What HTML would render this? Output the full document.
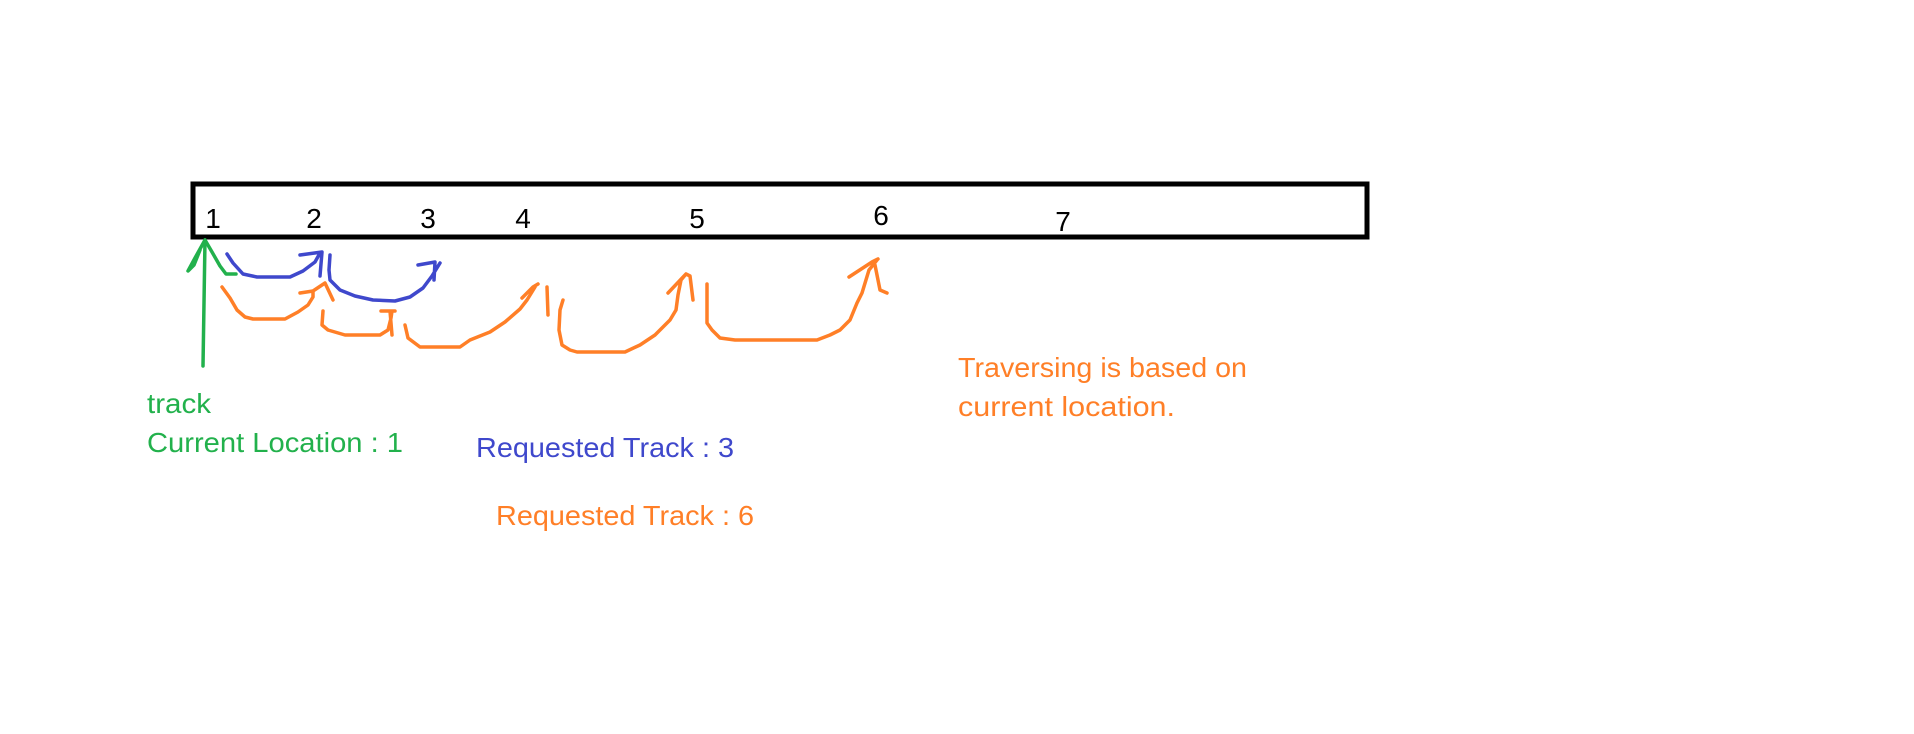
<!DOCTYPE html>
<html><head><meta charset="utf-8"><style>
html,body{margin:0;padding:0;background:#fff;}
svg{display:block;}
text{font-family:"Liberation Sans",sans-serif;font-size:28px;}
</style></head><body>
<svg width="1914" height="734" viewBox="0 0 1914 734">
<rect x="193" y="184" width="1174" height="53" fill="none" stroke="#000" stroke-width="5"/>
<g fill="#000" text-anchor="middle">
<text x="213" y="228">1</text>
<text x="314" y="228">2</text>
<text x="428" y="228">3</text>
<text x="523" y="228">4</text>
<text x="697" y="228">5</text>
<text x="881" y="225">6</text>
<text x="1063" y="231">7</text>
</g>
<g fill="none" stroke-width="3.5" stroke-linecap="round" stroke-linejoin="round">
<g stroke="#22b14c">
<path d="M203,366 L205,240"/>
<path d="M205,240 L195,258 L188,271 L194,265 L200,250"/>
<path d="M205,240 L212,252 L220,266 L226,274 L236,274"/>
</g>
<g stroke="#3f48cc">
<path d="M227,254 L233,263 L243,274 L257,277 L290,277 L303,271 L315,262 L320,253 M300,255 L322,252 L320,276"/>
<path d="M330,255 L329,270 L330,280 L340,290 L355,296 L373,300 L395,301 L410,297 L423,288 L432,276 L440,263 M418,265 L435,262 L434,280"/>
</g>
<g stroke="#ff7f27">
<path d="M222,287 L230,298 L237,310 L245,317 L253,319 L285,319 L298,312 L308,305 L313,297 L313,292 M300,293 L313,291 L325,283 L333,300"/>
<path d="M323,311 L322,325 L328,330 L345,335 L380,335 L388,330 L391,318 L392,311 M381,311 L395,311 M390,311 L392,335"/>
<path d="M405,325 L408,338 L420,347 L460,347 L470,340 L490,332 L505,322 L520,309 L527,300 L535,287 M522,298 L533,287 L538,284 M547,287 L548,315"/>
<path d="M563,300 L560,310 L559,330 L562,345 L570,350 L577,352 L625,352 L640,345 L655,335 L670,320 L676,310 L678,295 L681,280 L686,274 M668,293 L686,274 L690,276 L693,300"/>
<path d="M707,284 L707,323 L712,330 L720,338 L735,340 L817,340 L830,335 L840,330 L850,320 L857,303 L862,293 L869,270 L877,260 M849,277 L872,262 L878,259 M875,265 L880,290 L887,293"/>
</g>
</g>
<text x="147" y="413" fill="#22b14c" textLength="64" lengthAdjust="spacingAndGlyphs">track</text>
<text x="147" y="452" fill="#22b14c" textLength="256" lengthAdjust="spacingAndGlyphs">Current Location : 1</text>
<text x="476" y="457" fill="#3f48cc" textLength="258" lengthAdjust="spacingAndGlyphs">Requested Track : 3</text>
<text x="496" y="525" fill="#ff7f27" textLength="258" lengthAdjust="spacingAndGlyphs">Requested Track : 6</text>
<text x="958" y="377" fill="#ff7f27" textLength="289" lengthAdjust="spacingAndGlyphs">Traversing is based on</text>
<text x="958" y="416" fill="#ff7f27" textLength="217" lengthAdjust="spacingAndGlyphs">current location.</text>
</svg>
</body></html>
